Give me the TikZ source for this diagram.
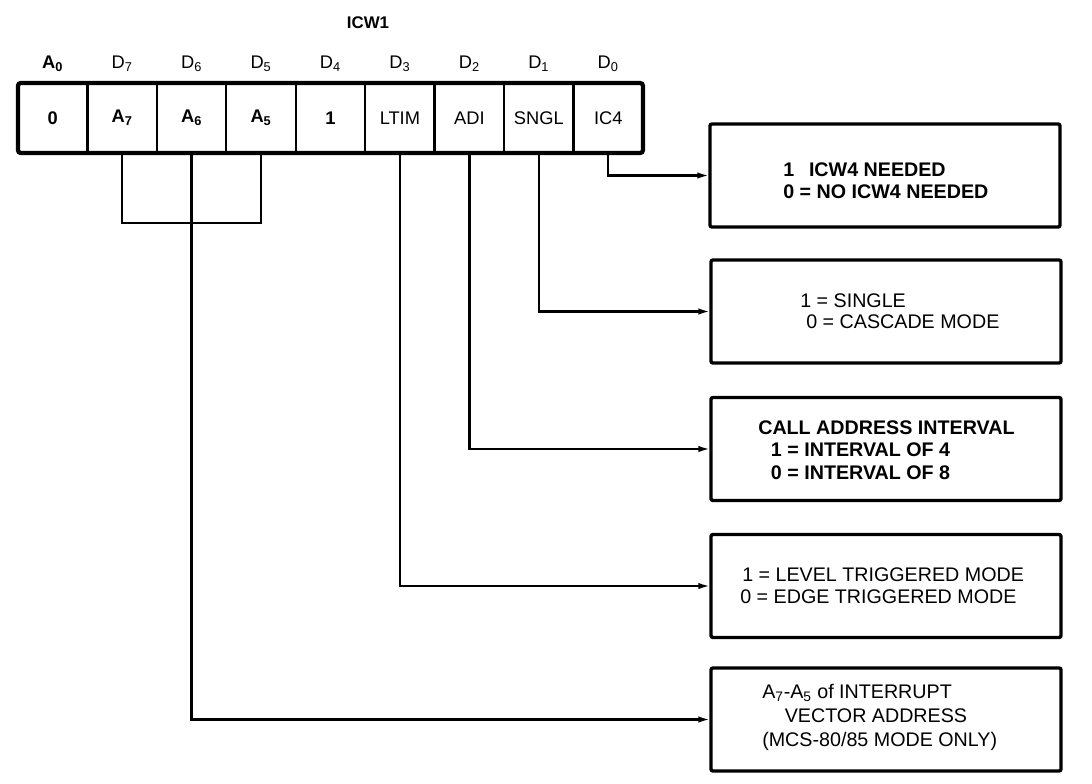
\documentclass[tikz,border=0pt]{standalone}
\usepackage{fontspec}
\setmainfont{Liberation Sans}
\usetikzlibrary{arrows.meta,positioning}

\begin{document}
\begin{tikzpicture}[x=0.025cm, y=-0.025cm,
    cell/.style={draw, line width=1.6pt, minimum width=1.736cm, minimum height=1.75cm,
        inner sep=0pt, outer sep=0pt, font=\fontsize{13}{15}\selectfont},
    bitlab/.style={inner sep=0pt, font=\fontsize{13}{15}\selectfont},
    modebox/.style={draw, line width=2.4pt, rounded corners=1.5pt,
        minimum width=8.75cm, minimum height=2.575cm, outer sep=0pt},
    modetxt/.style={anchor=west, align=left, inner sep=0pt},
    wire/.style={line width=1.7pt},
    feed/.style={wire, -{Latex[length=9pt, width=4.5pt]}}]
    \useasboundingbox (0,0) rectangle (1092,783);

    % Register title
    \node[font=\bfseries\fontsize{12}{14}\selectfont] (title) at (368,23) {ICW1};

    % Register fields and bit labels
    \foreach \val/\bit [count=\i from 0] in {
        {\bfseries 0}/{\bfseries A\textsubscript{0}},
        {\bfseries A\textsubscript{7}}/D\textsubscript{7},
        {\bfseries A\textsubscript{6}}/D\textsubscript{6},
        {\bfseries A\textsubscript{5}}/D\textsubscript{5},
        {\bfseries 1}/D\textsubscript{4},
        LTIM/D\textsubscript{3},
        ADI/D\textsubscript{2},
        SNGL/D\textsubscript{1},
        IC4/D\textsubscript{0}} {
        \node[cell] (f\i) at ({52.7+69.44*\i},118) {\val};
        \node[bitlab] (b\i) at ({52.7+69.44*\i},64) {\bit};
    }
    \draw[line width=3pt, rounded corners=2pt] (f0.north west) rectangle (f8.south east);

    % Mode boxes
    \node[modebox] (icwbox) at (885,175.5) {};
    \node[modebox] (sglbox) at (886,311.5) {};
    \node[modebox] (adibox) at (886,449) {};
    \node[modebox] (ltimbox) at (886,586) {};
    \node[modebox] (vecbox) at (886,719.5) {};

    % Box texts
    \node[modetxt, font=\bfseries\fontsize{14}{15.6}\selectfont] (icwtxt) at (783,181)
        {1\hspace{0.75em}ICW4 NEEDED\\0 = NO ICW4 NEEDED};
    \node[modetxt, font=\fontsize{14}{15}\selectfont] (sgltxt) at (800,311)
        {1 = SINGLE\\\hspace*{4.3pt}0 = CASCADE MODE};
    \node[modetxt, font=\bfseries\fontsize{14}{16}\selectfont] (aditxt) at (758,450)
        {CALL ADDRESS INTERVAL\\\hspace*{9pt}1 = INTERVAL OF 4\\\hspace*{9pt}0 = INTERVAL OF 8};
    \node[modetxt, font=\fontsize{14}{15.6}\selectfont] (ltimtxt) at (740,586)
        {\hspace*{1.4pt}1 = LEVEL TRIGGERED MODE\\0 = EDGE TRIGGERED MODE};
    \node[modetxt, font=\fontsize{14}{17}\selectfont] (vectxt) at (762,717)
        {A\textsubscript{7}-A\textsubscript{5} of INTERRUPT\\\hspace*{16pt}VECTOR ADDRESS\\(MCS-80/85 MODE ONLY)};

    % Connectors
    \coordinate (brk) at ([yshift=-1.75cm]f2.south);
    \draw[wire] (f1.south) |- (brk) -| (f3.south);
    \draw[feed] (f8.south) |- (icwbox.west);
    \draw[feed] (f7.south) |- (sglbox.west);
    \draw[feed] (f6.south) |- (adibox.west);
    \draw[feed] (f5.south) |- (ltimbox.west);
    \draw[feed] (f2.south) |- (vecbox.west);
\end{tikzpicture}
\end{document}
